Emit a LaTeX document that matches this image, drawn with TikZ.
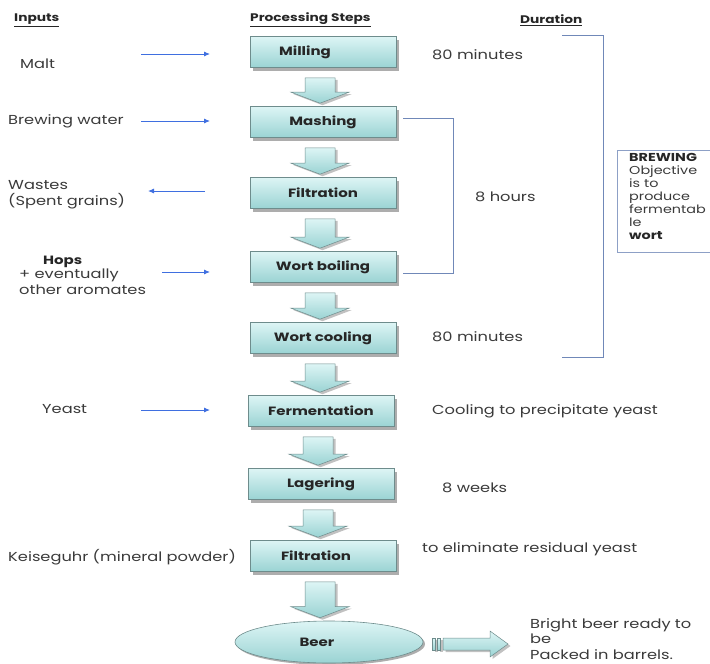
\documentclass[tikz,border=0pt]{standalone}
\usepackage{fontspec}
\setmainfont{Poppins}[FakeStretch=1.25]
\usetikzlibrary{shapes.geometric,shadows,calc,arrows.meta}
\definecolor{boxtop}{HTML}{DDF5F5}
\definecolor{boxbot}{HTML}{9AD3D3}
\definecolor{boxline}{HTML}{6E8C8C}
\definecolor{inarrow}{HTML}{3F6FE0}
\definecolor{brk}{HTML}{7088B8}
\definecolor{txt}{HTML}{3A3A3A}
\tikzset{
  stepbox/.style={rectangle, minimum width=146pt, minimum height=31pt, inner sep=0pt,
    top color=boxtop, bottom color=boxbot, draw=boxline, line width=0.6pt,
    font=\fontsize{12}{14}\selectfont\bfseries, text=black!85,
    drop shadow={shadow xshift=3pt,shadow yshift=-3pt,fill=gray!80,opacity=0.8}},
  blockarr/.style={top color=boxtop, bottom color=boxbot, draw=boxline, line width=0.5pt,
    drop shadow={shadow xshift=2.5pt,shadow yshift=-2pt,fill=gray!70,opacity=0.7}},
  plain/.style={font=\fontsize{13}{16}\selectfont, text=txt, inner sep=0pt},
  head/.style={font=\fontsize{11}{15}\selectfont\bfseries, text=black!85, inner sep=0pt},
  inarr/.style={draw=inarrow, line width=0.9pt, -{Latex[length=6pt,width=5pt]}},
  brkline/.style={draw=brk, line width=0.8pt},
}
\newcommand\flowarrow[2]{%
  \path[blockarr] let \p1=(#1.south), \p2=(#2.north) in
   (\x1-18pt,\y1-10pt) -- (\x1+12pt,\y1-10pt) -- (\x1+12pt,\y2+14pt) -- (\x1+26pt,\y2+14pt)
   -- (\x1-3pt,\y2+3pt) -- (\x1-32pt,\y2+14pt) -- (\x1-18pt,\y2+14pt) -- cycle;}
\begin{document}
\begin{tikzpicture}[x=1pt,y=-1pt]
\useasboundingbox (0,0) rectangle (710,664);
% headers
\node[head,anchor=west] (hin) at (14,20) {\underline{Inputs}};
\node[head,anchor=west] (hps) at (250,20) {\underline{Processing Steps}};
\node[head,anchor=west] (hdu) at (520,20) {\underline{Duration}};
% steps
\node[stepbox] (mill) at (323,52) {Milling\hspace*{36pt}};
\node[stepbox] (mash) at (323,122) {Mashing};
\node[stepbox] (filt) at (323,193) {Filtration};
\node[stepbox] (boil) at (323,267) {Wort boiling};
\node[stepbox] (cool) at (323,338) {Wort cooling};
\node[stepbox] (ferm) at (321,411) {Fermentation};
\node[stepbox] (lag) at (321,484) {Lagering};
\node[stepbox] (filt2) at (323,556) {Filtration\hspace*{14pt}};
\node[ellipse, minimum width=188pt, minimum height=42pt, inner sep=0pt,
  top color=boxtop, bottom color=boxbot, draw=boxline, line width=0.6pt,
  font=\fontsize{12}{14}\selectfont\bfseries, text=black!85,
  drop shadow={shadow xshift=2pt,shadow yshift=-2pt,fill=gray!80,opacity=0.8}] (beer) at (329,642) {Beer\hspace*{24pt}};
% flow arrows
\flowarrow{mill}{mash}
\flowarrow{mash}{filt}
\flowarrow{filt}{boil}
\flowarrow{boil}{cool}
\flowarrow{cool}{ferm}
\flowarrow{ferm}{lag}
\flowarrow{lag}{filt2}
\flowarrow{filt2}{beer}
% inputs
\node[plain,anchor=west] (malt) at (20,64) {Malt};
\node[plain,anchor=west] (water) at (8,121) {Brewing water};
\node[plain,anchor=north west,align=left] (waste) at (8,180) {Wastes\\(Spent grains)};
\node[head,anchor=west,font=\fontsize{12}{15}\selectfont\bfseries] (hops) at (43,262) {Hops};
\node[plain,anchor=north west,align=left] (arom) at (19,269) {+ eventually\\other aromates};
\node[plain,anchor=west] (yeast) at (42,409) {Yeast};
\node[plain,anchor=west] (kies) at (8,557) {Keiseguhr (mineral powder)};
\coordinate (a1s) at (141,54); \coordinate (a1e) at (210,54);
\coordinate (a2s) at (141,121); \coordinate (a2e) at (210,121);
\coordinate (a3s) at (205,191); \coordinate (a3e) at (148,191);
\coordinate (a4s) at (162,272); \coordinate (a4e) at (210,272);
\coordinate (a5s) at (141,410); \coordinate (a5e) at (210,410);
\draw[inarr] (a1s) -- (a1e);
\draw[inarr] (a2s) -- (a2e);
\draw[inarr] (a3s) -- (a3e);
\draw[inarr] (a4s) -- (a4e);
\draw[inarr] (a5s) -- (a5e);
% durations
\node[plain,anchor=west] (d1) at (432,55) {80 minutes};
\node[plain,anchor=west] (d2) at (475,197) {8 hours};
\node[plain,anchor=west] (d3) at (432,337) {80 minutes};
\node[plain,anchor=west] (d4) at (432,411) {Cooling to precipitate yeast};
\node[plain,anchor=west] (d5) at (442,488) {8 weeks};
\node[plain,anchor=west] (d6) at (422,549) {to eliminate residual yeast};
% brackets
\coordinate (b1a) at (403,118); \coordinate (b1b) at (453,118);
\coordinate (b1c) at (453,273); \coordinate (b1d) at (403,273);
\draw[brkline] (b1a) -- (b1b) -- (b1c) -- (b1d);
\coordinate (b2a) at (562,35); \coordinate (b2b) at (603,35);
\coordinate (b2c) at (603,357); \coordinate (b2d) at (562,357);
\draw[brkline] (b2a) -- (b2b) -- (b2c) -- (b2d);
% brewing box
\coordinate (bw1) at (617,150); \coordinate (bw2) at (713,252);
\draw[draw=brk!80, line width=0.8pt] (bw1) rectangle (bw2);
\node[anchor=north west, align=left, inner sep=0pt, text=txt,
  font=\fontsize{11.5}{13}\selectfont] (brew) at (629,153)
  {\textbf{\textcolor{black!85}{BREWING}}\\Objective\\is to\\produce\\fermentab\\le\\\textbf{\textcolor{black!85}{wort}}};
% output arrow
\path[blockarr] (443,638) -- (490,638) -- (490,631) -- (508,644) -- (490,657) -- (490,650) -- (443,650) -- cycle;
\path[blockarr] (432,638) rectangle (435,650);
\path[blockarr] (437,638) rectangle (440,650);
\node[plain,anchor=north west,align=left, font=\fontsize{13}{15.5}\selectfont] (out) at (530,618)
  {Bright beer ready to\\be\\Packed in barrels.};
\end{tikzpicture}
\end{document}
